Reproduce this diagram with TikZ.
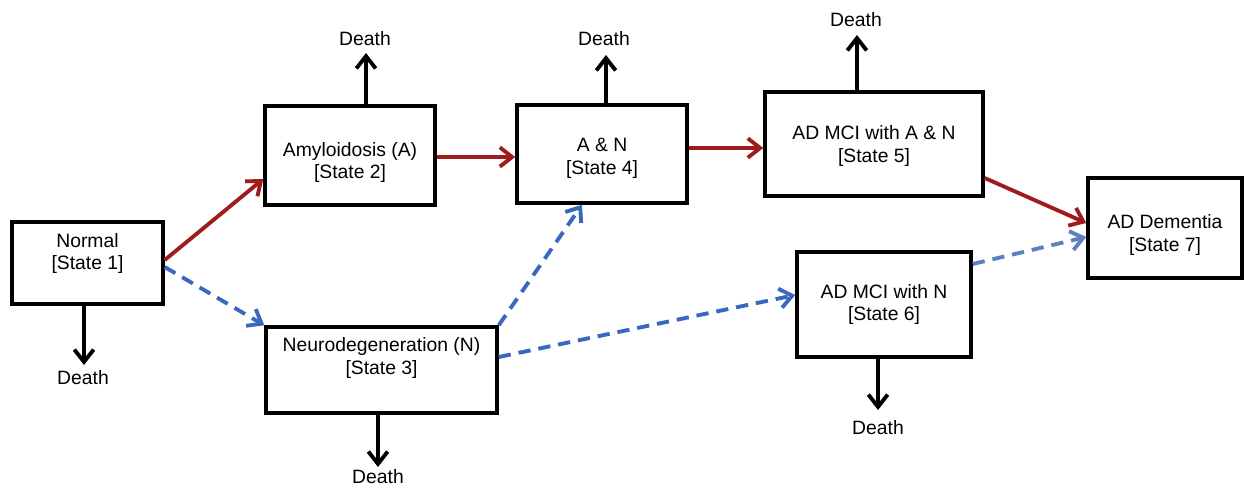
\documentclass[tikz,border=0pt]{standalone}
\usepackage{fontspec}
\setmainfont{Liberation Sans}
\usetikzlibrary{arrows.meta,calc}
\definecolor{redarr}{HTML}{A01C1C}
\definecolor{bluearr}{HTML}{3A68BE}
\definecolor{bluelight}{HTML}{5E7FC2}
\begin{document}
\begin{tikzpicture}[x=0.02cm,y=-0.02cm,
  box/.style={draw,line width=2pt,inner sep=0pt,fill=white},
  txt/.style={align=center,inner sep=0pt,font=\fontsize{11}{13}\selectfont},
  lbl/.style={inner sep=0pt,font=\fontsize{11}{13}\selectfont},
  tip/.style={-{Straight Barb[length=7pt,width=11pt,line width=2.2pt]}},
  deatharrow/.style={line width=2.2pt,tip},
  redarrow/.style={draw=redarr,line width=2.2pt,tip},
  bluearrow/.style={draw=bluearr,line width=2.2pt,dash pattern=on 7pt off 4.5pt,tip},
]
\useasboundingbox (0,0) rectangle (1244,488);

% states
\node[box,minimum width=3.02cm,minimum height=1.64cm,
  label={[txt,yshift=0.19cm]center:{Normal\\{[State 1]}}}] (s1) at (87.5,263) {};
\node[box,minimum width=3.40cm,minimum height=1.98cm,
  label={[txt,yshift=-0.14cm]center:{Amyloidosis (A)\\{[State 2]}}}] (s2) at (350,155.5) {};
\node[box,minimum width=4.62cm,minimum height=1.72cm,
  label={[txt,yshift=0.24cm]center:{Neurodegeneration (N)\\{[State 3]}}}] (s3) at (381.5,370) {};
\node[box,minimum width=3.40cm,minimum height=1.96cm,
  label={[txt,yshift=-0.09cm]center:{A \& N\\{[State 4]}}}] (s4) at (602,154) {};
\node[box,minimum width=4.36cm,minimum height=2.08cm,
  label={[txt,yshift=-0.04cm]center:{AD MCI with A \& N\\{[State 5]}}}] (s5) at (874,144) {};
\node[box,minimum width=3.48cm,minimum height=2.10cm,
  label={[txt]center:{AD MCI with N\\{[State 6]}}}] (s6) at (884,304.5) {};
\node[box,minimum width=3.08cm,minimum height=2.00cm,
  label={[txt,yshift=-0.14cm]center:{AD Dementia\\{[State 7]}}}] (s7) at (1165,228) {};

% death labels and arrow ends
\node[lbl] (l1) at (83,378) {Death};
\node[lbl] (l2) at (365,39) {Death};
\node[lbl] (l3) at (378,477) {Death};
\node[lbl] (l4) at (604,39) {Death};
\node[lbl] (l5) at (856,20) {Death};
\node[lbl] (l6) at (878,428) {Death};
\coordinate (d1) at (84,365);
\coordinate (d2) at (366,53);
\coordinate (d3) at (378,467);
\coordinate (d4) at (606,55);
\coordinate (d5) at (857,35);
\coordinate (d6) at (878,410);

\draw[deatharrow] (s1.south -| d1) -- (d1);
\draw[deatharrow] (s2.north -| d2) -- (d2);
\draw[deatharrow] (s3.south -| d3) -- (d3);
\draw[deatharrow] (s4.north -| d4) -- (d4);
\draw[deatharrow] (s5.north -| d5) -- (d5);
\draw[deatharrow] (s6.south -| d6) -- (d6);

% amyloid pathway (red)
\coordinate (a24) at ($(s2.east)+(0,1.5)$);
\coordinate (a45) at ($(s4.east)+(0,-6)$);
\draw[redarrow] ($(s1.east)+(0,-3)$) -- ($(s2.west)+(0,23.5)$);
\draw[redarrow] (a24) -- (a24 -| s4.west);
\draw[redarrow] (a45) -- (a45 -| s5.west);
\draw[redarrow] ($(s5.east)+(0,34)$) -- ($(s7.west)+(0,-5)$);

% neurodegeneration pathway (blue, dashed)
\draw[bluearrow] ($(s1.east)+(0,4)$) -- (s3.north west);
\draw[bluearrow] (s3.north east) -- ($(s4.south)+(-20,0)$);
\draw[bluearrow] ($(s3.east)+(0,-13)$) -- ($(s6.west)+(0,-9.5)$);
\draw[bluearrow,draw=bluelight] ($(s6.east)+(0,-40.5)$) -- ($(s7.west)+(0,9)$);
\end{tikzpicture}
\end{document}
